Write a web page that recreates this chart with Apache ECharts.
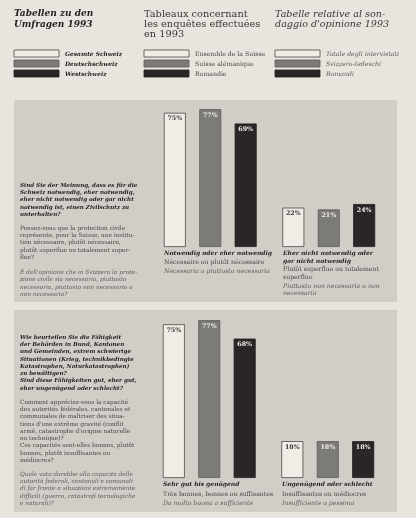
<!DOCTYPE html>
<html><head><meta charset="utf-8">
<script src="https://cdn.jsdelivr.net/npm/echarts@6/dist/echarts.min.js"></script>
<style>html,body{margin:0;padding:0;background:#e7e5de}#c{width:416px;height:518px}</style>
</head><body><div id="c"></div>
<script>
// ---- data ----
const seriesDe = ['Gesamte Schweiz', 'Deutschschweiz', 'Westschweiz'];
const seriesFr = ['Ensemble de la Suisse', 'Suisse alémanique', 'Romandie'];
const seriesIt = ['Totale degli intervistati', 'Svizzero-tedeschi', 'Romandi'];
const titleDe = 'Tabellen zu den\nUmfragen 1993';
const titleFr = 'Tableaux concernant\nles enquêtes effectuées\nen 1993';
const titleIt = 'Tabelle relative al son-\ndaggio d\'opinione 1993';

const q1Categories = ['notwendig', 'nicht notwendig'];
const q1Total = [75, 22];
const q1German = [77, 21];
const q1West = [69, 24];
const q1CatDe = ['Notwendig oder eher notwendig', 'Eher nicht notwendig oder\ngar nicht notwendig'];
const q1CatFr = ['Nécessaire ou plutôt nécessaire', 'Plutôt superflue ou totalement\nsuperflue'];
const q1CatIt = ['Necessaria o piuttosto necessaria', 'Piuttosto non necessaria o non\nnecessaria'];
const q1TextDe = 'Sind Sie der Meinung, dass es für die\nSchweiz notwendig, eher notwendig,\neher nicht notwendig oder gar nicht\nnotwendig ist, einen Zivilschutz zu\nunterhalten?';
const q1TextFr = 'Pensez-vous que la protection civile\nreprésente, pour la Suisse, une institu-\ntion nécessaire, plutôt nécessaire,\nplutôt superflue ou totalement super-\nflue?';
const q1TextIt = 'E dell\'opinione che in Svizzera la prote-\nzione civile sia necessaria, piuttosto\nnecessaria, piuttosto non necessaria o\nnon necessaria?';

const q2Categories = ['gut', 'schlecht'];
const q2Total = [75, 18];
const q2German = [77, 18];
const q2West = [68, 18];
const q2CatDe = ['Sehr gut bis genügend', 'Ungenügend oder schlecht'];
const q2CatFr = ['Très bonnes, bonnes ou suffisantes', 'Insuffisantes ou médiocres'];
const q2CatIt = ['Da molto buona a sufficiente', 'Insufficiente o pessima'];
const q2TextDe = 'Wie beurteilen Sie die Fähigkeit\nder Behörden in Bund, Kantonen\nund Gemeinden, extrem schwierige\nSituationen (Krieg, technikbedingte\nKatastrophen, Naturkatastrophen)\nzu bewältigen?\nSind diese Fähigkeiten gut, eher gut,\neher ungenügend oder schlecht?';
const q2TextFr = 'Comment appréciez-vous la capacité\ndes autorités fédérales, cantonales et\ncommunales de maîtriser des situa-\ntions d\'une extrême gravité (conflit\narmé, catastrophe d\'origine naturelle\nou technique)?\nCes capacités sont-elles bonnes, plutôt\nbonnes, plutôt insuffisantes ou\nmédiocres?';
const q2TextIt = 'Quale voto darebbe alla capacità delle\nautorità federali, cantonali e comunali\ndi far fronte a situazioni estremamente\ndifficili (guerra, catastrofi tecnologiche\ne naturali)?';

// ---- styles ----
const SERIF = '"DejaVu Serif", "Liberation Serif", serif';
const barColors = ['#efede6', '#7d7b78', '#2b2527'];
const barBorders = ['#4b4847', '#5e5c5a', '#221c1e'];
const labelColors = ['#3a3636', '#f2f0ea', '#f2f0ea'];
const cDark = '#262224', cMid = '#474445', cLight = '#5c595a';

function txt(text, x, y, font, fill, lh) {
  return { type: 'text', z: 1, silent: true,
    style: { text, x, y, font, fill, lineHeight: lh, verticalAlign: 'top', align: 'left' } };
}

const g = [];
g.push({ type: 'rect', z: 0, silent: true, shape: { x: 14, y: 100, width: 383, height: 202 }, style: { fill: '#d0cec7' } });
g.push({ type: 'rect', z: 0, silent: true, shape: { x: 14, y: 310, width: 383, height: 202 }, style: { fill: '#d0cec7' } });

// titles
g.push(txt(titleDe, 14, 9, 'italic bold 9px ' + SERIF, cDark, 10.2));
g.push(txt(titleFr, 144, 9, '9.8px ' + SERIF, '#3a3638', 10.2));
g.push(txt(titleIt, 275, 9, 'italic 9.6px ' + SERIF, '#3a3638', 10.2));

// legends
const legCols = [
  { x: 14, names: seriesDe, font: 'italic bold 5.9px ' + SERIF, fill: cDark },
  { x: 144, names: seriesFr, font: '6.2px ' + SERIF, fill: cMid },
  { x: 275, names: seriesIt, font: 'italic 6.2px ' + SERIF, fill: cLight }
];
legCols.forEach(col => {
  col.names.forEach((n, i) => {
    const y = 50 + i * 10;
    g.push({ type: 'rect', z: 1, silent: true, shape: { x: col.x, y, width: 45, height: 7 },
      style: { fill: barColors[i], stroke: barBorders[i], lineWidth: 0.8 } });
    g.push(txt(n, col.x + 51, y, col.font, col.fill, 8));
  });
});

// question texts
g.push(txt(q1TextDe, 20, 181.5, 'italic bold 5.6px ' + SERIF, cDark, 7.4));
g.push(txt(q1TextFr, 20, 224.5, '5.8px ' + SERIF, cMid, 7.3));
g.push(txt(q1TextIt, 20, 268.5, 'italic 5.8px ' + SERIF, cLight, 7.4));
g.push(txt(q2TextDe, 20, 333.5, 'italic bold 5.6px ' + SERIF, cDark, 7.3));
g.push(txt(q2TextFr, 20, 398.5, '5.8px ' + SERIF, cMid, 7.3));
g.push(txt(q2TextIt, 20, 470.5, 'italic 5.8px ' + SERIF, cLight, 7.3));

// category labels
const catX = [164, 283];
[0, 1].forEach(i => {
  const x = catX[i];
  const deLines = q1CatDe[i].split('\n').length;
  const frLines = q1CatFr[i].split('\n').length;
  let y = 250;
  g.push(txt(q1CatDe[i], x, y, 'italic bold 6px ' + SERIF, cDark, 7.6));
  y += deLines * 7.6 + 0.8;
  g.push(txt(q1CatFr[i], x, y, '6.2px ' + SERIF, cMid, 7.6));
  y += frLines * 7.6 + 1.2;
  g.push(txt(q1CatIt[i], x, y, 'italic 6.2px ' + SERIF, cLight, 7.6));
});
[0, 1].forEach(i => {
  const x = catX[i] - 1;
  g.push(txt(q2CatDe[i], x, 480, 'italic bold 6px ' + SERIF, cDark, 8));
  g.push(txt(q2CatFr[i], x, 490, '6.2px ' + SERIF, cMid, 8));
  g.push(txt(q2CatIt[i], x, 499.5, 'italic 6.2px ' + SERIF, cLight, 8));
});

function mkSeries(dataArr, axisIdx) {
  return dataArr.map((d, i) => ({
    type: 'bar', name: seriesDe[i], data: d, xAxisIndex: axisIdx, yAxisIndex: axisIdx,
    barWidth: 22, barGap: '61%', z: 3, silent: true,
    itemStyle: { color: barColors[i], borderColor: barBorders[i], borderWidth: 0.8 },
    label: { show: true, position: 'insideTop', distance: 3, formatter: '{c}%',
      fontFamily: SERIF, fontWeight: 'bold', fontSize: 6.3, color: labelColors[i] }
  }));
}

const hiddenX = (cats, gi) => ({ type: 'category', data: cats, gridIndex: gi,
  axisLine: { show: false }, axisTick: { show: false }, axisLabel: { show: false }, splitLine: { show: false } });
const hiddenY = (gi) => ({ type: 'value', min: 0, max: 100, gridIndex: gi,
  axisLine: { show: false }, axisTick: { show: false }, axisLabel: { show: false }, splitLine: { show: false } });

const chart = echarts.init(document.getElementById('c'), null, { renderer: 'canvas' });
chart.setOption({
  backgroundColor: '#e7e5de',
  animation: false,
  grid: [
    { left: 151, width: 237, top: 68, height: 179 },
    { left: 150, width: 237, top: 273, height: 205 }
  ],
  xAxis: [hiddenX(q1Categories, 0), hiddenX(q2Categories, 1)],
  yAxis: [hiddenY(0), hiddenY(1)],
  series: [...mkSeries([q1Total, q1German, q1West], 0), ...mkSeries([q2Total, q2German, q2West], 1)],
  graphic: { elements: g }
});
</script></body></html>
